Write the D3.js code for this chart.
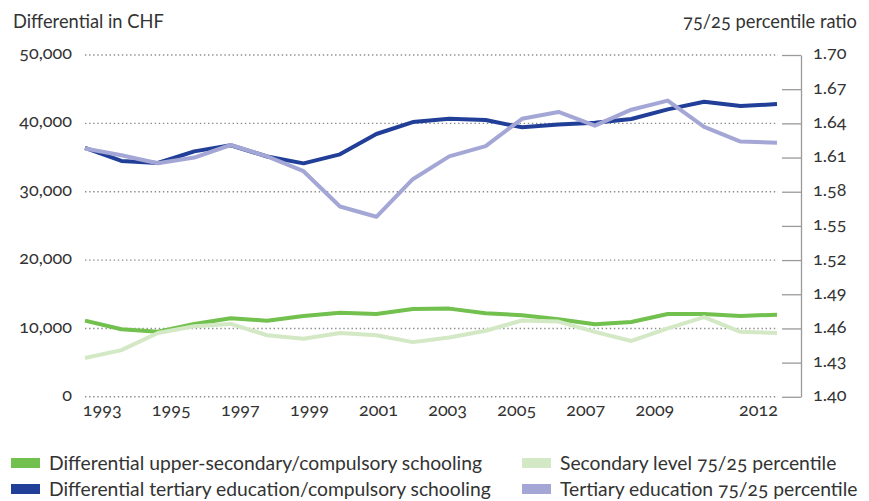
<!DOCTYPE html>
<html>
<head>
<meta charset="utf-8">
<script src="https://cdn.jsdelivr.net/npm/d3@7"></script>
<style>
  html, body { margin: 0; padding: 0; background: #fff; }
  svg text { font-family: "Lato", "Open Sans", sans-serif; fill: #333; font-variant-numeric: oldstyle-nums; }
</style>
</head>
<body>
<svg id="chart" width="869" height="501"></svg>
<script>
// Survey years (one point per year)
const years = [1993, 1994, 1995, 1996, 1997, 1998, 1999, 2000, 2001, 2002,
               2003, 2004, 2005, 2006, 2007, 2008, 2009, 2010, 2011, 2012];

// Wage differentials in CHF (left axis)
const diffUpperSecondary = [11140, 9880, 9530, 10660, 11490, 11140, 11830, 12310, 12120, 12850,
                            12900, 12220, 11930, 11340, 10610, 10950, 12120, 12120, 11830, 12020];
const diffTertiary = [36400, 34500, 34200, 35900, 36800, 35150, 34150, 35470, 38440, 40190,
                      40670, 40480, 39420, 39850, 40090, 40630, 42050, 43160, 42530, 42820];

// 75/25 percentile ratios (right axis)
const ratioSecondary = [1.434, 1.441, 1.456, 1.462, 1.464, 1.454, 1.451, 1.456, 1.454, 1.448,
                        1.452, 1.458, 1.467, 1.466, 1.457, 1.449, 1.460, 1.470, 1.457, 1.456];
const ratioTertiary = [1.618, 1.612, 1.605, 1.610, 1.621, 1.611, 1.598, 1.567, 1.558, 1.591,
                       1.611, 1.620, 1.644, 1.650, 1.638, 1.652, 1.660, 1.637, 1.624, 1.623];

// Tick labels
const leftTicks = [0, 10000, 20000, 30000, 40000, 50000];
const rightTicks = [1.40, 1.43, 1.46, 1.49, 1.52, 1.55, 1.58, 1.61, 1.64, 1.67, 1.70];
const yearLabels = [1993, 1995, 1997, 1999, 2001, 2003, 2005, 2007, 2009, 2012];

const legendItems = [
  { label: "Differential upper-secondary/compulsory schooling", color: "#72c04e" },
  { label: "Differential tertiary education/compulsory schooling", color: "#213f98" },
  { label: "Secondary level 75/25 percentile", color: "#d3e8c4" },
  { label: "Tertiary education 75/25 percentile", color: "#a4a7d5" }
];

const svg = d3.select("#chart");

const plotLeft = 85, plotRight = 777, gridRight = 778;
const plotTop = 55, plotBottom = 396.8, axisX = 801;
const tickFont = 18;

const x = d3.scalePoint().domain(years).range([plotLeft, plotRight]);
const xLabel = d3.scaleLinear().domain([1993, 2012]).range([101.7, 758]);
const yL = d3.scaleLinear().domain([0, 50000]).range([plotBottom, plotTop]);
const yR = d3.scaleLinear().domain([1.40, 1.70]).range([plotBottom, plotTop]);

// dotted gridlines
svg.append("g").selectAll("line").data(leftTicks).join("line")
  .attr("x1", plotLeft).attr("x2", gridRight)
  .attr("y1", d => yL(d)).attr("y2", d => yL(d))
  .attr("stroke", "#8c8c8c").attr("stroke-width", 1.4)
  .attr("stroke-dasharray", "1.4 2.7");

// left axis labels
const gL = svg.append("g").attr("transform", "translate(72,0)")
  .call(d3.axisLeft(yL).tickValues(leftTicks).tickFormat(d3.format(",")).tickSize(0).tickPadding(0));
gL.select(".domain").remove();
gL.selectAll("text").attr("font-size", tickFont).attr("fill", "#333").attr("dy", "0.2em");

// right axis: line and inward ticks
const gR = svg.append("g").attr("transform", `translate(${axisX},0)`)
  .call(d3.axisLeft(yR).tickValues(rightTicks).tickFormat("").tickSizeInner(19).tickSizeOuter(0));
gR.selectAll("line, path").attr("stroke", "#9a9a9a").attr("stroke-width", 1.3);

const gR2 = svg.append("g").attr("transform", `translate(${axisX},0)`)
  .call(d3.axisRight(yR).tickValues(rightTicks).tickFormat(d3.format(".2f")).tickSize(0).tickPadding(12));
gR2.select(".domain").remove();
gR2.selectAll("text").attr("font-size", tickFont).attr("fill", "#333").attr("dy", "0.22em");

// year labels
const gX = svg.append("g").attr("transform", `translate(0,${plotBottom})`)
  .call(d3.axisBottom(xLabel).tickValues(yearLabels).tickFormat(d3.format("d")).tickSize(0).tickPadding(0));
gX.select(".domain").remove();
gX.selectAll("text").attr("font-size", tickFont).attr("fill", "#333").attr("dy", "1.05em");

// axis titles
svg.append("text").attr("x", 13).attr("y", 28).attr("font-size", 18.3).text("Differential in CHF");
svg.append("text").attr("x", 857).attr("y", 28).attr("font-size", 18.3).attr("text-anchor", "end").text("75/25 percentile ratio");

// series
const lineL = d3.line().x((d, i) => x(years[i])).y(d => yL(d));
const lineR = d3.line().x((d, i) => x(years[i])).y(d => yR(d));

const series = [
  { values: diffUpperSecondary, line: lineL, color: legendItems[0].color },
  { values: diffTertiary, line: lineL, color: legendItems[1].color },
  { values: ratioSecondary, line: lineR, color: legendItems[2].color },
  { values: ratioTertiary, line: lineR, color: legendItems[3].color }
];

svg.append("g").selectAll("path").data(series).join("path")
  .attr("d", s => s.line(s.values))
  .attr("fill", "none")
  .attr("stroke", s => s.color)
  .attr("stroke-width", 4)
  .attr("stroke-linejoin", "round");

// legend
const legendPos = [
  { sx: 11, tx: 49, y: 463 },
  { sx: 11, tx: 49, y: 489 },
  { sx: 522, tx: 560, y: 463 },
  { sx: 522, tx: 560, y: 489 }
];
const lg = svg.append("g").selectAll("g").data(legendItems).join("g");
lg.append("rect")
  .attr("x", (d, i) => legendPos[i].sx).attr("y", (d, i) => legendPos[i].y - 5)
  .attr("width", 29).attr("height", 10)
  .attr("fill", d => d.color);
lg.append("text")
  .attr("x", (d, i) => legendPos[i].tx).attr("y", (d, i) => legendPos[i].y)
  .attr("dy", "0.35em").attr("font-size", 19.3)
  .text(d => d.label);
</script>
</body>
</html>
